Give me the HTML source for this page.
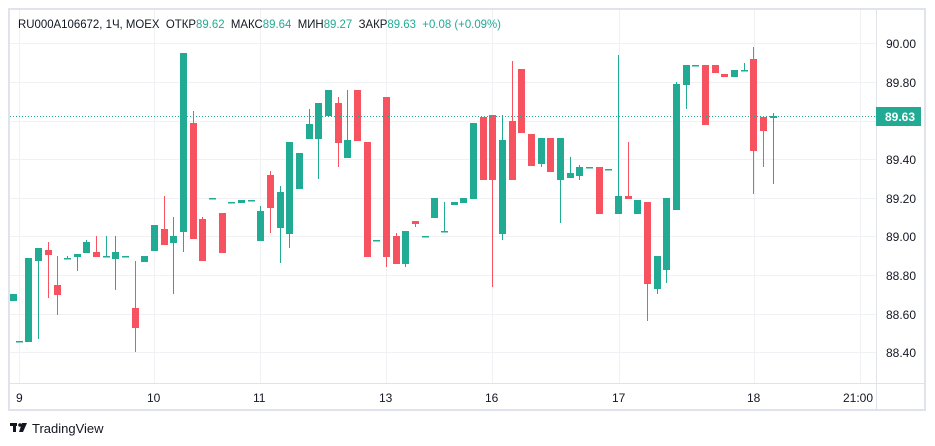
<!DOCTYPE html>
<html><head><meta charset="utf-8"><style>
body{margin:0;background:#fff;width:935px;height:446px;overflow:hidden;font-family:"Liberation Sans",sans-serif}
svg{position:absolute;left:0;top:0}
</style></head><body>
<svg id="s" width="935" height="446" xmlns="http://www.w3.org/2000/svg" font-family="Liberation Sans, sans-serif">
<rect x="0" y="0" width="935" height="446" fill="#fff"/>
<g stroke="#f0f1f4" stroke-width="1">
<line x1="10" y1="43.5" x2="876" y2="43.5"/><line x1="10" y1="82.5" x2="876" y2="82.5"/>
<line x1="10" y1="121.5" x2="876" y2="121.5"/><line x1="10" y1="159.5" x2="876" y2="159.5"/>
<line x1="10" y1="198.5" x2="876" y2="198.5"/><line x1="10" y1="236.5" x2="876" y2="236.5"/>
<line x1="10" y1="275.5" x2="876" y2="275.5"/><line x1="10" y1="314.5" x2="876" y2="314.5"/>
<line x1="10" y1="352.5" x2="876" y2="352.5"/>
<line x1="19.5" y1="10" x2="19.5" y2="383"/><line x1="154.5" y1="10" x2="154.5" y2="383"/>
<line x1="260.5" y1="10" x2="260.5" y2="383"/><line x1="386.5" y1="10" x2="386.5" y2="383"/>
<line x1="492.5" y1="10" x2="492.5" y2="383"/><line x1="619.5" y1="10" x2="619.5" y2="383"/>
<line x1="754.5" y1="10" x2="754.5" y2="383"/><line x1="860.5" y1="10" x2="860.5" y2="383"/>
</g>
<rect x="9" y="9" width="916" height="401" fill="none" stroke="#e0e3eb" stroke-width="2"/>
<line x1="9" y1="383.5" x2="925" y2="383.5" stroke="#e0e3eb" stroke-width="1"/>
<line x1="876.5" y1="9" x2="876.5" y2="410" stroke="#e0e3eb" stroke-width="1"/>
<g id="c"></g>
<line x1="10" y1="116.5" x2="876" y2="116.5" stroke="#22ab94" stroke-width="1" stroke-dasharray="1,2"/>
<g font-size="12" fill="#131722">
<text x="886" y="48">90.00</text><text x="886" y="87">89.80</text>
<text x="886" y="164">89.40</text><text x="886" y="203">89.20</text>
<text x="886" y="241">89.00</text><text x="886" y="280">88.80</text>
<text x="886" y="319">88.60</text><text x="886" y="357">88.40</text>
</g>
<rect x="876" y="107" width="45" height="19" fill="#22ab94"/>
<text x="885" y="121" font-size="12" font-weight="bold" fill="#fff">89.63</text>
<g font-size="12" fill="#131722">
<text x="16" y="402">9</text><text x="147" y="402">10</text><text x="253" y="402">11</text>
<text x="379" y="402">13</text><text x="485" y="402">16</text><text x="612" y="402">17</text>
<text x="747" y="402">18</text><text x="843" y="402">21:00</text>
</g>
<text x="18" y="28" font-size="12" fill="#131722" textLength="483" lengthAdjust="spacingAndGlyphs">RU000A106672, 1Ч, MOEX&#160; ОТКР<tspan fill="#22ab94">89.62</tspan>&#160; МАКС<tspan fill="#22ab94">89.64</tspan>&#160; МИН<tspan fill="#22ab94">89.27</tspan>&#160; ЗАКР<tspan fill="#22ab94">89.63&#160; +0.08 (+0.09%)</tspan></text>
<g fill="#131722"><rect x="10" y="423" width="7" height="3"/><rect x="13" y="423" width="3" height="9"/><circle cx="20" cy="425" r="1.8"/><polygon points="22,423 27,423 23,432 19,432"/></g>
<text x="32" y="433" font-size="13" fill="#131722">TradingView</text>
</svg>
<script>
var G="#22ab94",R="#f7525f";
var d=[[10,294,301,294,301,G],[16,341,341,341,341,G],[25,258,342,258,342,G],[35,248,261,248,339,G],[45,250,255,242,298,R],
[54,285,295,256,315,R],[64,258,258,256,258,G],[74,254,257,254,271,G],[83,242,253,240,253,G],[93,252,257,236,257,R],
[103,256,256,236,256,G],[112,252,259,236,290,G],[122,256,256,256,256,G],[132,308,328,261,352,R],[141,256,262,256,262,G],
[151,225,251,225,251,G],[161,229,245,196,245,R],[170,236,243,217,294,G],[180,53,232,53,252,G],[190,123,239,111,239,R],
[199,219,261,217,261,R],[209,198,198,198,198,G],[219,213,253,213,253,R],[228,202,202,202,202,G],[238,200,203,200,203,G],
[248,200,200,200,200,G],[257,211,241,206,241,G],[267,175,208,171,233,R],[277,192,228,186,263,G],[286,142,234,142,248,G],
[296,153,189,153,189,G],[306,124,139,109,139,G],[315,103,139,103,179,G],[325,90,116,90,116,G],[335,103,143,97,167,R],
[344,140,158,90,158,G],[354,90,141,90,141,R],[364,142,257,142,257,R],[373,240,240,240,240,G],[383,97,257,97,267,R],
[393,236,264,233,264,R],[402,231,264,231,267,G],[412,221,224,221,227,R],[422,236,236,236,236,G],[431,198,218,198,218,G],
[441,231,231,202,231,G],[451,202,205,202,205,G],[460,198,203,198,203,G],[470,123,199,123,199,G],[480,117,180,117,180,R],
[489,115,180,115,287,R],[499,140,234,115,240,G],[509,121,180,61,180,R],[518,69,133,69,133,R],[528,134,166,134,166,R],
[538,138,164,138,167,G],[547,138,172,138,172,R],[557,138,180,138,223,G],[567,173,178,157,178,G],[576,167,176,165,180,G],
[586,167,167,167,167,G],[596,167,214,167,214,R],[605,169,169,169,169,G],[615,196,214,55,214,G],[625,196,199,142,199,R],
[634,200,214,200,214,G],[644,202,284,202,321,R],[654,256,289,256,294,G],[663,198,270,198,283,G],[673,84,210,82,210,G],
[683,65,85,65,109,G],[692,65,65,65,65,G],[702,65,125,65,125,R],[712,65,73,65,73,R],[721,74,77,74,77,R],
[731,70,77,70,77,G],[741,70,70,63,70,G],[750,59,151,47,194,R],[760,117,131,117,167,R],[770,116,118,113,184,G]];
var h="";
d.forEach(function(c){var x=c[0],w=7,cx=x+3.5;
h+='<line x1="'+cx+'" y1="'+c[3]+'" x2="'+cx+'" y2="'+c[4]+'" stroke="'+c[5]+'" stroke-width="1"/>';
var bh=Math.max(c[2]-c[1],1.5);h+='<rect x="'+x+'" y="'+c[1]+'" width="'+w+'" height="'+bh+'" fill="'+c[5]+'"/>';});
document.getElementById("c").innerHTML=h;
</script>
</body></html>
